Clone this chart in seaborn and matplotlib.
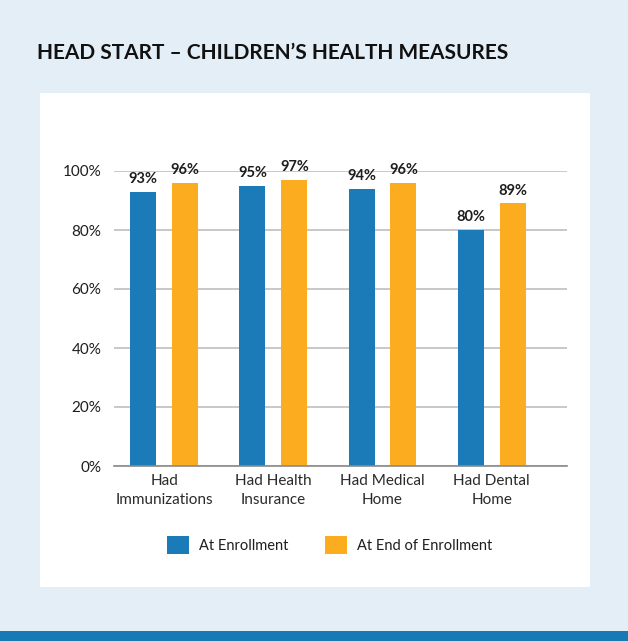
import pandas as pd
import matplotlib.pyplot as plt
from matplotlib.patches import Rectangle
import seaborn as sns

categories = ["Had\nImmunizations", "Had Health\nInsurance", "Had Medical\nHome", "Had Dental\nHome"]
series_names = ["At Enrollment", "At End of Enrollment"]
at_enrollment = [93, 95, 94, 80]
at_end = [96, 97, 96, 89]
y_ticks = [0, 20, 40, 60, 80, 100]

colors = {"At Enrollment": "#1a7bb8", "At End of Enrollment": "#fbac1f"}
bg = "#e3eef6"

df = pd.DataFrame({
    "category": categories * 2,
    "series": [series_names[0]] * len(categories) + [series_names[1]] * len(categories),
    "value": at_enrollment + at_end,
})

sns.set_theme(style="white")
plt.rcParams["font.family"] = ["Lato", "DejaVu Sans"]

W, H = 628, 641
fig = plt.figure(figsize=(W / 100, H / 100), dpi=100, facecolor=bg)

# white panel and bottom stripe (behind the axes)
fig.patches.append(Rectangle((40 / W, 1 - 587 / H), 550 / W, 494 / H,
                             transform=fig.transFigure, facecolor="white",
                             edgecolor="none", zorder=-5))
fig.patches.append(Rectangle((0, 0), 1, 10 / H, transform=fig.transFigure,
                             facecolor="#177ab5", edgecolor="none", zorder=-5))

fig.text(37 / W, 1 - 53 / H, "HEAD START – CHILDREN’S HEALTH MEASURES",
         fontsize=15, fontweight="bold", color="#111111", va="center", ha="left")

ax = fig.add_axes([114 / W, 1 - 466 / H, (567 - 114) / W, 295 / H])
ax.set_facecolor("none")

sns.barplot(data=df, x="category", y="value", hue="series", order=categories,
            hue_order=series_names, palette=colors, width=0.768, gap=0.38,
            edgecolor="none", saturation=1, ax=ax, legend=True)

for cont in ax.containers:
    ax.bar_label(cont, labels=[f"{v:.0f}%" for v in cont.datavalues],
                 padding=4, fontsize=10.5, fontweight="bold", color="#1e1e1e")

ax.set_ylim(0, 100)
ax.set_xlim(-0.46, 3.69)
ax.set_yticks(y_ticks)
ax.set_yticklabels([f"{t}%" for t in y_ticks])
ax.set_xlabel("")
ax.set_ylabel("")
ax.set_axisbelow(True)
ax.yaxis.grid(True, color="#c4c4c4", linewidth=1.3)
ax.xaxis.grid(False)

for s in ["top", "right", "left"]:
    ax.spines[s].set_visible(False)
ax.spines["bottom"].set_color("#8a8a8a")
ax.spines["bottom"].set_linewidth(1.2)

ax.tick_params(axis="y", length=0, pad=9, labelsize=11, labelcolor="#1e1e1e")
ax.tick_params(axis="x", which="major", length=0, pad=6, labelsize=11, labelcolor="#2a2a2a")
for lbl in ax.get_xticklabels():
    lbl.set_linespacing(1.45)
ax.set_xticks([-0.46, 3.69], minor=True)
ax.tick_params(axis="x", which="minor", length=3, width=1, color="#8a8a8a", direction="out")

handles, labels = ax.get_legend_handles_labels()
ax.legend_.remove()
fig.legend(handles, labels, loc="center", bbox_to_anchor=(0.525, 1 - 545 / H),
           ncol=2, frameon=False, fontsize=10.5, handlelength=1.5, handleheight=1.5,
           handletextpad=0.7, columnspacing=2.5, labelcolor="#1e1e1e")

fig.savefig("out.png", dpi=100, facecolor=bg)
